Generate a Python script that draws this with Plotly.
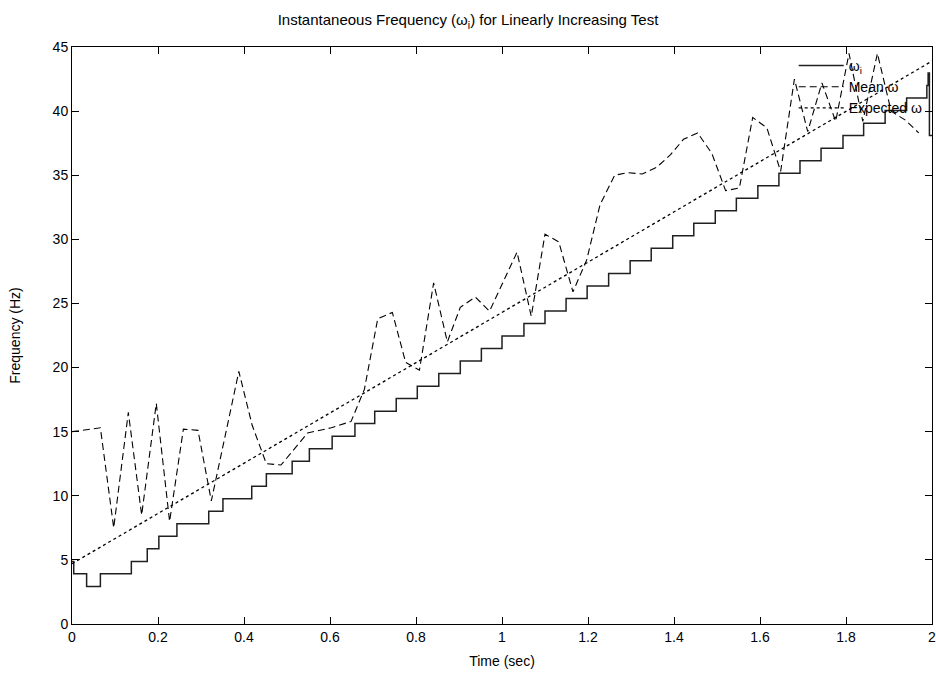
import plotly.graph_objects as go

# ---- data ----
# instantaneous frequency omega_i (staircase): change times (s) and level after change (Hz)
omega_i_time = [0.0, 0.004, 0.034, 0.066, 0.138, 0.175, 0.202, 0.244, 0.318, 0.351,
                0.418, 0.452, 0.512, 0.552, 0.605, 0.658, 0.704, 0.754, 0.803, 0.853,
                0.903, 0.952, 1.000, 1.051, 1.100, 1.149, 1.198, 1.248, 1.298, 1.347,
                1.397, 1.446, 1.496, 1.545, 1.595, 1.644, 1.693, 1.742, 1.793, 1.841,
                1.891, 1.941, 1.988, 1.991, 1.994, 2.0]
omega_i_freq = [4.88, 3.91, 2.93, 3.91, 4.88, 5.86, 6.84, 7.81, 8.79, 9.77,
                10.74, 11.72, 12.70, 13.67, 14.65, 15.63, 16.60, 17.58, 18.55, 19.53,
                20.51, 21.48, 22.46, 23.44, 24.41, 25.39, 26.37, 27.34, 28.32, 29.30,
                30.27, 31.25, 32.23, 33.20, 34.18, 35.16, 36.13, 37.11, 38.09, 39.06,
                40.04, 41.02, 41.99, 42.97, 38.09, 38.09]

# mean omega (dashed)
mean_time = [0.0, 0.066, 0.097, 0.131, 0.162, 0.196, 0.227, 0.259, 0.293, 0.324,
             0.388, 0.419, 0.452, 0.486, 0.548, 0.603, 0.649, 0.680, 0.711, 0.745,
             0.776, 0.808, 0.841, 0.873, 0.903, 0.938, 0.971, 1.002, 1.035, 1.068,
             1.100, 1.132, 1.165, 1.197, 1.228, 1.262, 1.293, 1.326, 1.359, 1.392,
             1.422, 1.455, 1.488, 1.520, 1.552, 1.583, 1.616, 1.648, 1.680, 1.711,
             1.744, 1.776, 1.807, 1.839, 1.873, 1.905, 1.938, 1.969]
mean_freq = [15.0, 15.3, 7.5, 16.5, 8.5, 17.2, 8.0, 15.2, 15.1, 9.6,
             19.7, 15.5, 12.5, 12.4, 14.9, 15.3, 15.8, 18.3, 23.8, 24.3,
             20.4, 19.8, 26.6, 22.0, 24.7, 25.5, 24.4, 26.6, 29.0, 24.0,
             30.4, 29.8, 25.9, 28.4, 32.7, 35.0, 35.2, 35.1, 35.6, 36.6,
             37.8, 38.3, 36.7, 33.8, 34.0, 39.5, 38.7, 35.3, 42.5, 38.4,
             42.2, 39.2, 44.5, 39.2, 44.5, 40.0, 39.3, 38.3]

# expected omega (dotted straight line)
expected_time = [0.0, 2.0]
expected_freq = [4.7, 43.9]

x_tick_vals = [0, 0.2, 0.4, 0.6, 0.8, 1.0, 1.2, 1.4, 1.6, 1.8, 2.0]
x_tick_text = ["0", "0.2", "0.4", "0.6", "0.8", "1", "1.2", "1.4", "1.6", "1.8", "2"]
y_tick_vals = [0, 5, 10, 15, 20, 25, 30, 35, 40, 45]
y_tick_text = ["0", "5", "10", "15", "20", "25", "30", "35", "40", "45"]

FONT = "Liberation Sans, Arial, sans-serif"
FS = 14

fig = go.Figure()
fig.add_trace(go.Scatter(
    x=omega_i_time, y=omega_i_freq, mode="lines", line_shape="hv",
    name="ω<sub>i</sub>", line=dict(color="#202020", width=1.5)))
fig.add_trace(go.Scatter(
    x=mean_time, y=mean_freq, mode="lines", name="Mean ω",
    line=dict(color="black", width=1.1, dash="7px,4px")))
fig.add_trace(go.Scatter(
    x=expected_time, y=expected_freq, mode="lines", name="Expected ω",
    line=dict(color="black", width=1.3, dash="3px,3px")))

axis_common = dict(
    showline=True, linecolor="black", linewidth=1, mirror="ticks",
    ticks="inside", ticklen=7, tickcolor="black", tickwidth=1,
    showgrid=False, zeroline=False, automargin=False,
    ticklabeloverflow="allow",
    tickfont=dict(family=FONT, size=FS, color="black"),
)

fig.update_layout(
    width=936, height=673,
    margin=dict(l=72, r=4, t=47, b=49),
    paper_bgcolor="white", plot_bgcolor="white",
    font=dict(family=FONT, size=FS, color="black"),
    title=dict(text="Instantaneous Frequency (ω<sub>i</sub>) for Linearly Increasing Test",
               x=0.5, xanchor="center", y=0.97, yanchor="middle",
               font=dict(family=FONT, size=15, color="black")),
    xaxis=dict(range=[0, 2], tickvals=x_tick_vals, ticktext=x_tick_text,
               title=dict(text="Time (sec)", standoff=12,
                          font=dict(family=FONT, size=FS)), **axis_common),
    yaxis=dict(range=[0, 45], tickvals=y_tick_vals, ticktext=y_tick_text,
               title=dict(text="Frequency (Hz)", standoff=28,
                          font=dict(family=FONT, size=FS)), **axis_common),
    legend=dict(x=0.995, y=0.995, xanchor="right", yanchor="top",
                bgcolor="rgba(0,0,0,0)", borderwidth=0,
                font=dict(family=FONT, size=FS), tracegroupgap=0,
                itemwidth=45),
)

fig.write_html("out.html")
